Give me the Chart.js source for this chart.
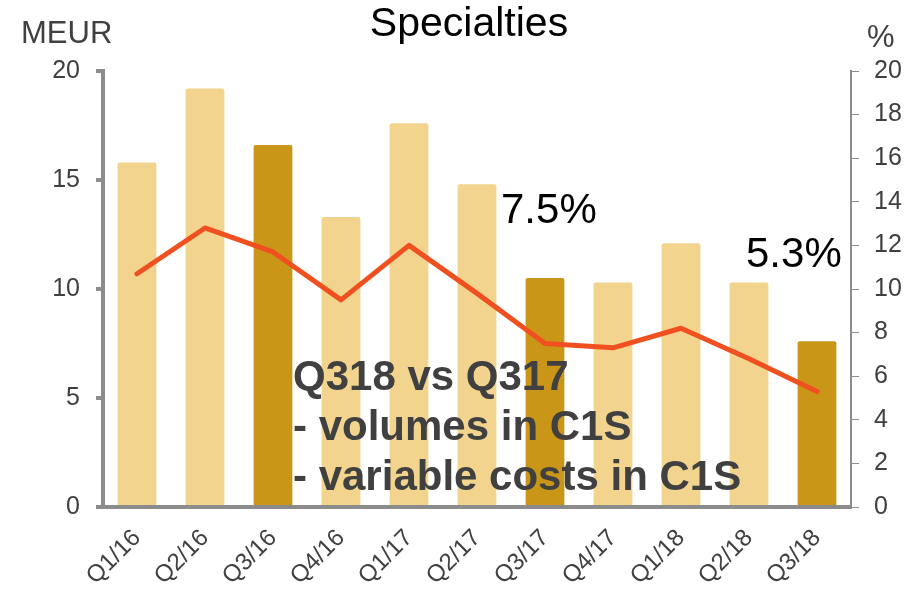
<!DOCTYPE html>
<html>
<head>
<meta charset="utf-8">
<script src="https://cdn.jsdelivr.net/npm/chart.js@4/dist/chart.umd.min.js"></script>
<style>
    html, body { margin: 0; padding: 0; background: #fff; }
    #wrap { width: 910px; height: 589px; position: relative; }
</style>
</head>
<body>
<div id="wrap"><canvas id="specChart"></canvas></div>
<script>
const quarters = ['Q1/16', 'Q2/16', 'Q3/16', 'Q4/16', 'Q1/17', 'Q2/17', 'Q3/17', 'Q4/17', 'Q1/18', 'Q2/18', 'Q3/18'];
const ebitda = [15.8, 19.2, 16.6, 13.3, 17.6, 14.8, 10.5, 10.3, 12.1, 10.3, 7.6];
const margin = [10.7, 12.8, 11.7, 9.5, 12.0, 9.8, 7.5, 7.3, 8.2, 6.8, 5.3];
const leftTicks = [0, 5, 10, 15, 20];
const rightTicks = [0, 2, 4, 6, 8, 10, 12, 14, 16, 18, 20];
const highlighted = ['Q3/16', 'Q3/17', 'Q3/18'];

const LIGHT = '#f2d48e';
const DARK = '#c99618';
const AXIS = '#8c8c8c';
const TEXT = '#404040';
const FONT = '"Liberation Sans", Arial, sans-serif';

// titles and notes drawn on top
const textPlugin = {
    id: 'texts',
    afterDraw(chart) {
        const ctx = chart.ctx;
        ctx.save();
        ctx.textBaseline = 'alphabetic';
        ctx.fillStyle = '#000';
        ctx.font = '41px ' + FONT;
        ctx.textAlign = 'center';
        ctx.fillText('Specialties', 469, 36);

        ctx.fillStyle = TEXT;
        ctx.font = '31px ' + FONT;
        ctx.textAlign = 'left';
        ctx.fillText('MEUR', 21, 43);
        ctx.fillText('%', 867, 47);

        ctx.fillStyle = '#000';
        ctx.font = '42px ' + FONT;
        ctx.fillText('7.5%', 501, 223);
        ctx.fillText('5.3%', 746, 267);

        ctx.fillStyle = TEXT;
        ctx.font = 'bold 42px ' + FONT;
        ctx.fillText('Q318 vs Q317', 293, 390);
        ctx.fillText('- volumes in C1S', 293, 440);
        ctx.fillText('- variable costs in C1S', 293, 490);
        ctx.restore();
    }
};

const chart = new Chart(document.getElementById('specChart'), {
    data: {
        labels: quarters,
        datasets: [{
            type: 'line',
            data: margin,
            yAxisID: 'yR',
            borderColor: '#f05020',
            borderWidth: 5,
            borderCapStyle: 'round',
            borderJoinStyle: 'round',
            pointRadius: 0,
            tension: 0,
            order: 0
        }, {
            type: 'bar',
            data: ebitda,
            yAxisID: 'y',
            backgroundColor: quarters.map(q => highlighted.includes(q) ? DARK : LIGHT),
            borderRadius: 2,
            borderSkipped: 'bottom',
            barPercentage: 0.57,
            categoryPercentage: 1,
            order: 1
        }]
    },
    options: {
        responsive: true,
        maintainAspectRatio: false,
        animation: false,
        layout: { padding: { top: 71, left: 0, right: 0, bottom: 0 } },
        plugins: {
            legend: { display: false },
            tooltip: { enabled: false }
        },
        scales: {
            x: {
                grid: { display: false, drawTicks: false },
                border: { color: AXIS, width: 4 },
                ticks: {
                    color: TEXT,
                    font: { family: FONT, size: 24 },
                    maxRotation: 45,
                    minRotation: 45,
                    padding: 17
                },
                afterFit(s) { s.height = 82; }
            },
            y: {
                position: 'left',
                min: 0,
                max: 20,
                afterBuildTicks(s) { s.ticks = leftTicks.map(v => ({ value: v })); },
                grid: { drawOnChartArea: false, color: AXIS, lineWidth: 4, tickLength: 7 },
                border: { color: AXIS, width: 4 },
                ticks: {
                    color: TEXT,
                    font: { family: FONT, size: 25 },
                    padding: 16
                },
                afterFit(s) { s.width = 103; }
            },
            yR: {
                position: 'right',
                min: 0,
                max: 20,
                afterBuildTicks(s) { s.ticks = rightTicks.map(v => ({ value: v })); },
                grid: { drawOnChartArea: false, color: AXIS, lineWidth: 1, tickLength: 8 },
                border: { color: AXIS, width: 2 },
                ticks: {
                    color: TEXT,
                    font: { family: FONT, size: 25 },
                    padding: 15
                },
                afterFit(s) { s.width = 59; }
            }
        }
    },
    plugins: [textPlugin]
});
</script>
</body>
</html>
